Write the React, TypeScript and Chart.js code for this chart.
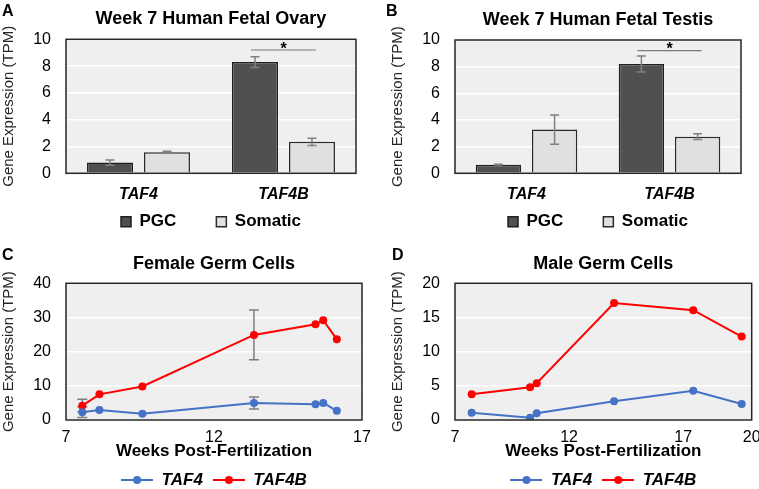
import React, { useEffect, useRef } from 'react';
import { Chart, registerables } from 'chart.js';

Chart.register(...registerables);

const FONT = '"Liberation Sans", Arial, Helvetica, sans-serif';
Chart.defaults.font.family = FONT;
Chart.defaults.color = '#000';

// ---------- Panels A & B (bar charts) ----------
const genes = ['TAF4', 'TAF4B'];
const barLegend = ['PGC', 'Somatic'];
const barYTicks = [0, 2, 4, 6, 8, 10];

const ovaryPGC = [0.8, 8.3];
const ovaryPGCErr = [0.2, 0.4];
const ovarySomatic = [1.57, 2.35];
const ovarySomaticErr = [0.07, 0.27];

const testisPGC = [0.65, 8.2];
const testisPGCErr = [0.03, 0.6];
const testisSomatic = [3.28, 2.75];
const testisSomaticErr = [1.1, 0.22];

const sigGeneIndex = 1;
const sigValue = 9.2;

// ---------- Panel C (female germ cells) ----------
const femaleWeeks = [7.55, 8.13, 9.58, 13.35, 15.43, 15.69, 16.15];
const femaleTAF4 = [2.3, 2.9, 1.8, 5.0, 4.6, 5.0, 2.7];
const femaleTAF4Err = [1.6, 0, 0, 1.75, 0, 0, 0];
const femaleTAF4B = [4.2, 7.5, 9.8, 24.9, 28.0, 29.2, 23.6];
const femaleTAF4BErr = [1.85, 0, 0, 7.3, 0, 0, 0];
const femaleXTicks = [7, 12, 17];
const femaleYTicks = [0, 10, 20, 30, 40];

// ---------- Panel D (male germ cells) ----------
const maleWeeks = [7.73, 10.29, 10.58, 13.97, 17.44, 19.56];
const maleTAF4 = [1.07, 0.34, 0.98, 2.73, 4.29, 2.34];
const maleTAF4B = [3.76, 4.78, 5.37, 17.1, 16.06, 12.2];
const maleXTicks = [7, 12, 17, 20];
const maleYTicks = [0, 5, 10, 15, 20];

const lineLegend = ['TAF4', 'TAF4B'];

const BLUE = '#4472c4';
const RED = '#ff0000';
const PLOT_BG = '#efefef';
const ERR_COLOR = '#808080';

type DecorOpts = {
  letter: string;
  lx: number;
  errors: (number[] | null)[];
  errorsBehind: boolean;
  cap: number;
  sig?: { index: number; value: number };
};

function makeDecor(o: DecorOpts) {
  const drawErrors = (chart: any) => {
    const { ctx } = chart;
    const ys = chart.scales.y;
    ctx.save();
    ctx.strokeStyle = ERR_COLOR;
    ctx.lineWidth = 1.5;
    o.errors.forEach((errs, di) => {
      if (!errs) return;
      const meta = chart.getDatasetMeta(di);
      meta.data.forEach((el: any, j: number) => {
        const e = errs[j];
        if (!e) return;
        const raw = chart.data.datasets[di].data[j];
        const v = typeof raw === 'number' ? raw : raw.y;
        const x = el.x;
        const y1 = ys.getPixelForValue(v + e);
        const y2 = ys.getPixelForValue(v - e);
        const h = o.cap / 2;
        ctx.beginPath();
        ctx.moveTo(x, y1);
        ctx.lineTo(x, y2);
        ctx.moveTo(x - h, y1);
        ctx.lineTo(x + h, y1);
        ctx.moveTo(x - h, y2);
        ctx.lineTo(x + h, y2);
        ctx.stroke();
      });
    });
    ctx.restore();
  };
  return {
    id: 'decor',
    beforeDraw(chart: any) {
      const { ctx, chartArea: a } = chart;
      ctx.save();
      ctx.fillStyle = PLOT_BG;
      ctx.fillRect(a.left, a.top, a.right - a.left, a.bottom - a.top);
      ctx.restore();
    },
    beforeDatasetsDraw(chart: any) {
      if (o.errorsBehind) drawErrors(chart);
    },
    afterDatasetsDraw(chart: any) {
      if (!o.errorsBehind) drawErrors(chart);
      const { ctx, chartArea: a } = chart;
      if (o.sig) {
        const ys = chart.scales.y;
        const x0 = chart.getDatasetMeta(0).data[o.sig.index].x;
        const x1 = chart.getDatasetMeta(1).data[o.sig.index].x;
        const y = ys.getPixelForValue(o.sig.value);
        ctx.save();
        ctx.strokeStyle = '#7a7a7a';
        ctx.lineWidth = 1.2;
        ctx.beginPath();
        ctx.moveTo(x0 - 4, y);
        ctx.lineTo(x1 + 4, y);
        ctx.stroke();
        ctx.fillStyle = '#000';
        ctx.font = 'bold 16px ' + FONT;
        ctx.textAlign = 'center';
        ctx.textBaseline = 'alphabetic';
        ctx.fillText('*', (x0 + x1) / 2, y + 3.5);
        ctx.restore();
      }
      ctx.save();
      ctx.strokeStyle = '#262626';
      ctx.lineWidth = 1.5;
      ctx.strokeRect(a.left, a.top, a.right - a.left, a.bottom - a.top);
      ctx.restore();
    },
    afterDraw(chart: any) {
      const { ctx } = chart;
      ctx.save();
      ctx.fillStyle = '#000';
      ctx.font = 'bold 16px ' + FONT;
      ctx.textAlign = 'left';
      ctx.textBaseline = 'alphabetic';
      ctx.fillText(o.letter, o.lx, 16);
      ctx.restore();
    },
  };
}

function yScale(max: number, ticks: number[]) {
  return {
    min: 0,
    max,
    afterBuildTicks: (s: any) => {
      s.ticks = ticks.map((v) => ({ value: v }));
    },
    afterFit: (s: any) => {
      s.width = 66;
    },
    grid: { color: '#ffffff', lineWidth: 1.5, drawTicks: false },
    border: { display: false },
    ticks: { font: { size: 16 }, color: '#000', padding: 15 },
    title: {
      display: true,
      text: 'Gene Expression (TPM)',
      font: { size: 15 },
      color: '#262626',
      padding: 0,
    },
  };
}

function barConfig(
  title: string,
  letter: string,
  lx: number,
  padLeft: number,
  padRight: number,
  titlePad: { top: number; bottom: number },
  pgc: number[],
  pgcErr: number[],
  som: number[],
  somErr: number[]
) {
  return {
    type: 'bar',
    data: {
      labels: genes,
      datasets: [
        {
          label: barLegend[0],
          data: pgc,
          backgroundColor: '#505050',
          borderColor: '#1e1e1e',
          borderWidth: 1.5,
          categoryPercentage: 0.786,
          barPercentage: 0.807,
        },
        {
          label: barLegend[1],
          data: som,
          backgroundColor: '#e0e0e0',
          borderColor: '#2a2a2a',
          borderWidth: 1.5,
          categoryPercentage: 0.786,
          barPercentage: 0.807,
        },
      ],
    },
    options: {
      responsive: false,
      devicePixelRatio: 1,
      animation: false,
      events: [],
      layout: { padding: { left: padLeft, right: padRight, top: 0, bottom: 4.7 } },
      scales: {
        x: {
          type: 'category',
          grid: { display: false, drawTicks: false },
          border: { display: false },
          ticks: { font: { size: 16, weight: 'bold', style: 'italic' }, color: '#000', padding: 12 },
          afterFit: (s: any) => {
            // the category labels hang below into the legend's band
            s.height = 0;
            s._computeLabelArea = () => undefined;
          },
        },
        y: yScale(10, barYTicks),
      },
      plugins: {
        tooltip: { enabled: false },
        title: {
          display: true,
          text: title,
          font: { size: 18, weight: 'bold' },
          color: '#000',
          padding: titlePad,
          fullSize: false,
        },
        legend: {
          display: true,
          position: 'bottom',
          fullSize: false,
          labels: {
            boxWidth: 10,
            boxHeight: 10,
            padding: 40,
            color: '#000',
            font: { size: 17, weight: 'bold' },
          },
        },
      },
    },
    plugins: [
      makeDecor({
        letter,
        lx,
        errors: [pgcErr, somErr],
        errorsBehind: false,
        cap: 9,
        sig: { index: sigGeneIndex, value: sigValue },
      }),
    ],
  };
}

function makeMarker(color: string) {
  const c = document.createElement('canvas');
  c.width = 32;
  c.height = 10;
  const ctx = c.getContext('2d')!;
  ctx.strokeStyle = color;
  ctx.lineWidth = 2;
  ctx.beginPath();
  ctx.moveTo(0, 5);
  ctx.lineTo(32, 5);
  ctx.stroke();
  ctx.fillStyle = color;
  ctx.beginPath();
  ctx.arc(16, 5, 4, 0, Math.PI * 2);
  ctx.fill();
  return c;
}

function lineConfig(
  title: string,
  letter: string,
  lx: number,
  padLeft: number,
  padRight: number,
  weeks: number[],
  taf4: number[],
  taf4b: number[],
  taf4Err: number[] | null,
  taf4bErr: number[] | null,
  xMax: number,
  xTicks: number[],
  yMax: number,
  yTicks: number[]
) {
  const markers = [makeMarker(BLUE), makeMarker(RED)];
  const series = [taf4, taf4b];
  const colors = [BLUE, RED];
  return {
    type: 'line',
    data: {
      datasets: series.map((s, k) => ({
        label: lineLegend[k],
        data: weeks.map((w, i) => ({ x: w, y: s[i] })),
        borderColor: colors[k],
        backgroundColor: colors[k],
        borderWidth: 2,
        pointRadius: 4,
        pointBorderWidth: 0,
        pointBackgroundColor: colors[k],
        tension: 0,
        fill: false,
      })),
    },
    options: {
      responsive: false,
      devicePixelRatio: 1,
      animation: false,
      events: [],
      layout: { padding: { left: padLeft, right: padRight, top: 0, bottom: 0 } },
      scales: {
        x: {
          type: 'linear',
          min: 7,
          max: xMax,
          afterBuildTicks: (s: any) => {
            s.ticks = xTicks.map((v) => ({ value: v }));
          },
          afterFit: (s: any) => {
            s.height = 41.5;
          },
          grid: { display: false, drawTicks: false },
          border: { display: false },
          ticks: { font: { size: 16 }, color: '#000', padding: 8.4 },
          title: {
            display: true,
            text: 'Weeks Post-Fertilization',
            font: { size: 17, weight: 'bold' },
            color: '#000',
            padding: { top: 0, bottom: 0 },
          },
        },
        y: yScale(yMax, yTicks),
      },
      plugins: {
        tooltip: { enabled: false },
        title: {
          display: true,
          text: title,
          font: { size: 18, weight: 'bold' },
          color: '#000',
          padding: { top: 9.5, bottom: 8.2 },
          fullSize: false,
        },
        legend: {
          display: true,
          position: 'bottom',
          fullSize: false,
          maxHeight: 27.5,
          labels: {
            usePointStyle: true,
            pointStyleWidth: 32,
            padding: 10,
            color: '#000',
            font: { size: 17, weight: 'bold', style: 'italic' },
            generateLabels: (chart: any) =>
              Chart.defaults.plugins.legend.labels
                .generateLabels(chart)
                .map((item: any, i: number) => ({ ...item, pointStyle: markers[i] })),
          },
        },
      },
    },
    plugins: [
      makeDecor({
        letter,
        lx,
        errors: [taf4Err, taf4bErr],
        errorsBehind: true,
        cap: 10,
      }),
    ],
  };
}

function ChartCanvas(props: { make: () => any; left: number; top: number; width: number; height: number }) {
  const ref = useRef<HTMLCanvasElement>(null);
  useEffect(() => {
    const chart = new Chart(ref.current as HTMLCanvasElement, props.make());
    return () => chart.destroy();
  }, []);
  return (
    <canvas
      ref={ref}
      width={props.width}
      height={props.height}
      style={{
        position: 'absolute',
        left: props.left,
        top: props.top,
        width: props.width,
        height: props.height,
        display: 'block',
      }}
    />
  );
}

export default function App() {
  return (
    <div
      style={{
        position: 'absolute',
        left: 0,
        top: 0,
        width: 759,
        height: 489,
        overflow: 'hidden',
        background: '#ffffff',
      }}
    >
      <ChartCanvas
        left={0}
        top={0}
        width={380}
        height={245}
        make={() =>
          barConfig(
            'Week 7 Human Fetal Ovary',
            'A',
            2,
            0,
            24,
            { top: 8, bottom: 9.7 },
            ovaryPGC,
            ovaryPGCErr,
            ovarySomatic,
            ovarySomaticErr
          )
        }
      />
      <ChartCanvas
        left={379}
        top={0}
        width={380}
        height={245}
        make={() =>
          barConfig(
            'Week 7 Human Fetal Testis',
            'B',
            7,
            10,
            18,
            { top: 9.5, bottom: 8.9 },
            testisPGC,
            testisPGCErr,
            testisSomatic,
            testisSomaticErr
          )
        }
      />
      <ChartCanvas
        left={0}
        top={244}
        width={380}
        height={245}
        make={() =>
          lineConfig(
            'Female Germ Cells',
            'C',
            2,
            0,
            18,
            femaleWeeks,
            femaleTAF4,
            femaleTAF4B,
            femaleTAF4Err,
            femaleTAF4BErr,
            17,
            femaleXTicks,
            40,
            femaleYTicks
          )
        }
      />
      <ChartCanvas
        left={379}
        top={244}
        width={400}
        height={245}
        make={() =>
          lineConfig(
            'Male Germ Cells',
            'D',
            13,
            10,
            27.3,
            maleWeeks,
            maleTAF4,
            maleTAF4B,
            null,
            null,
            20,
            maleXTicks,
            20,
            maleYTicks
          )
        }
      />
    </div>
  );
}
